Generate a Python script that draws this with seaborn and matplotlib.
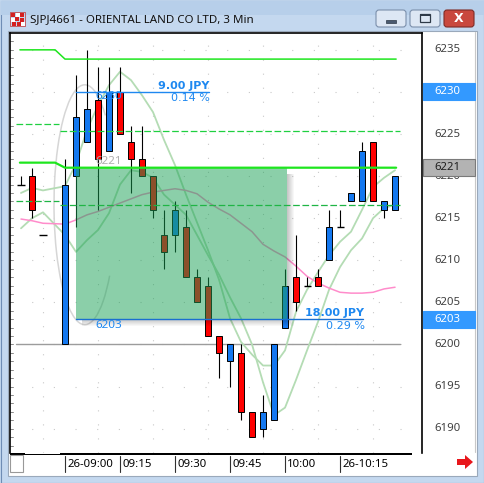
import numpy as np
import pandas as pd
import matplotlib
matplotlib.use("Agg")
import matplotlib.pyplot as plt
import matplotlib.transforms as mtransforms
from matplotlib.patches import Rectangle, FancyBboxPatch, Arc, Polygon
import seaborn as sns

sns.set_theme(style="white")
plt.rcParams["font.family"] = ["Noto Sans", "DejaVu Sans"]
plt.rcParams["lines.scale_dashes"] = False

# ---------------- 3-minute bars, SJPJ4661 ----------------
prev_times = ["25-14:54", "25-14:57", "25-15:00"]
curr_times = list(pd.date_range("2000-01-26 09:00", "2000-01-26 10:30", freq="3min").strftime("26-%H:%M"))
times = prev_times + curr_times

open_ = [6219, 6220, 6213,
         6200, 6220, 6224, 6229, 6223, 6230, 6224, 6222, 6220, 6213, 6213, 6214, 6208, 6207, 6201, 6198,
         6199, 6192, 6190, 6191, 6202, 6208, 6207, 6208, 6210, 6214, 6217, 6217, 6224, 6216, 6216]
high = [6220, 6221, 6213,
        6222, 6232, 6235, 6233, 6233, 6233, 6226, 6226, 6220, 6216, 6217, 6216, 6209, 6208, 6201, 6200,
        6200, 6192, 6194, 6200, 6209, 6213, 6208, 6209, 6216, 6216, 6218, 6224, 6224, 6217, 6220]
low = [6219, 6215, 6213,
       6200, 6214, 6224, 6216, 6223, 6225, 6218, 6220, 6215, 6209, 6211, 6208, 6205, 6201, 6196, 6195,
       6191, 6189, 6189, 6191, 6202, 6204, 6207, 6207, 6210, 6214, 6217, 6217, 6217, 6215, 6216]
close = [6219, 6216, 6213,
         6219, 6227, 6228, 6222, 6230, 6225, 6222, 6220, 6216, 6211, 6216, 6208, 6205, 6201, 6199, 6200,
         6192, 6189, 6192, 6200, 6207, 6205, 6207, 6207, 6214, 6214, 6218, 6223, 6217, 6217, 6220]

# slow moving average (pink)
ma_slow = [6214.9, 6214.7, 6214.4,
           6214.3, 6214.8, 6215.4, 6215.8, 6216.3, 6216.8, 6217.3, 6217.8, 6218.1, 6218.3, 6218.5, 6218.3,
           6217.9, 6216.9, 6216.1, 6215.4, 6214.4, 6213.4, 6211.9, 6211.1, 6210.4, 6209.3, 6208.1, 6207.3,
           6206.7, 6206.2, 6206.1, 6206.1, 6206.2, 6206.6, 6206.8]
# channel bands (pale green)
band_upper = [6218.0, 6218.6, 6218.3,
              6218.8, 6221.5, 6225.5, 6228.4, 6230.8, 6232.4, 6231.4, 6229.6, 6227.6, 6224.3, 6221.3, 6217.8,
              6214.5, 6211.2, 6207.7, 6203.1, 6200.3, 6198.8, 6197.5, 6197.5, 6199.3, 6203.9, 6206.5, 6208.6,
              6210.6, 6212.2, 6213.4, 6216.0, 6218.7, 6219.8, 6220.7]
band_lower = [6213.8, 6215.0, 6215.7,
              6213.0, 6211.0, 6212.4, 6213.6, 6215.6, 6219.0, 6220.7, 6220.5, 6219.8, 6217.8, 6216.6, 6215.4,
              6213.0, 6210.6, 6208.3, 6205.6, 6203.1, 6200.0, 6195.5, 6191.6, 6192.5, 6195.8, 6199.3, 6202.7,
              6206.5, 6209.2, 6211.2, 6212.6, 6215.0, 6216.2, 6216.6]

# session reference levels: (previous session, current session)
level_high = (6235.0, 6233.9)
level_mid = (6226.2, 6225.4)
level_close = (6221.6, 6221.0)
level_low = (6217.0, 6216.6)
round_level = 6200

# price-range drawing
range_top, range_base, range_bottom = 6230, 6221, 6203
last_price = 6221

time_ticks = ["26-09:00", "26-09:15", "26-09:30", "26-09:45", "26-10:00", "26-10:15"]
tick_text = ["26-09:00", "09:15", "09:30", "09:45", "10:00", "26-10:15"]
price_labels = [6235, 6230, 6225, 6220, 6215, 6210, 6205, 6200, 6195, 6190]

# ---------------- layout ----------------
n_prev = len(prev_times)
idx = np.arange(len(times))
slot = idx + (idx >= n_prev)          # one empty slot at the session break
pos = dict(zip(times, slot))

W, H = 485, 483
fig = plt.figure(figsize=(W / 100, H / 100), dpi=100)
fig.patch.set_facecolor("#c2d7ee")

# window chrome, drawn in pixel coordinates
ch = fig.add_axes([0, 0, 1, 1], zorder=0)
ch.set_xlim(0, W)
ch.set_ylim(H, 0)
ch.axis("off")
ch.add_patch(Rectangle((0.5, 0.5), W - 1, H - 1, fc="#c4d8ef", ec="#6f8db5", lw=0.8))
ch.add_patch(Rectangle((1, 1), W - 2, 14, fc="#b7cfea", ec="none"))
ch.add_patch(Rectangle((8, 31), 469, 445, fc="white", ec="#9aa9bb", lw=0.8))
# title icon
for (ix, iy, c) in [(11, 13, "#d42020"), (16, 13, "#ffffff"), (20, 13, "#d42020"),
                    (11, 18, "#ffffff"), (15, 17, "#d42020"), (20, 18, "#d42020"),
                    (12, 22, "#d42020"), (17, 22, "#d42020"), (21, 22, "#ffffff")]:
    ch.add_patch(Rectangle((ix, iy), 3.6, 3.6, fc=c, ec="none"))
ch.add_patch(Rectangle((10, 12), 15, 14, fc="none", ec="#c03030", lw=0.5))
ch.text(30, 20, "SJPJ4661 - ORIENTAL LAND CO LTD, 3 Min", fontsize=8.3,
        color="#111111", va="center", ha="left", family=["Noto Sans", "DejaVu Sans"])
# caption buttons
for bx, fc, ec in [(376, "#dde7f4", "#7b8fab"), (410, "#dde7f4", "#7b8fab"), (444, "#c9483e", "#7f2a25")]:
    ch.add_patch(FancyBboxPatch((bx, 10), 30, 17, boxstyle="round,pad=0,rounding_size=3",
                                fc=fc, ec=ec, lw=0.8))
ch.add_patch(Rectangle((386, 20), 10, 3, fc="#4a5a70", ec="#2e3a48", lw=0.5))
ch.add_patch(Rectangle((420, 14), 10, 8, fc="none", ec="#2e3a48", lw=0.9))
ch.add_patch(Rectangle((420, 14), 10, 2, fc="#2e3a48", ec="none"))
ch.text(459, 18.5, "X", fontsize=9, fontweight="bold", color="white", ha="center", va="center",
        family="DejaVu Sans")
# bottom strip: scroll bar, corner box, arrow
ch.add_patch(Rectangle((10, 452), 402, 3, fc="black", ec="none"))
ch.add_patch(Rectangle((25, 452.6), 35, 1.4, fc="white", ec="none"))
ch.add_patch(Rectangle((10, 455), 13, 17, fc="white", ec="#999999", lw=0.8))
ch.add_patch(Polygon([(457, 459), (465, 459), (465, 455), (473, 462), (465, 469), (465, 465), (457, 465)],
                     closed=True, fc="#e8161b", ec="none"))
ch.add_line(plt.Line2D([475.5, 475.5], [32, 452], color="#c8c8c8", lw=0.8))

# ---------------- price panel ----------------
ax = fig.add_axes([10 / W, 30 / H, 412 / W, 420 / H], zorder=1)
ax.set_facecolor("white")
ax.set_xlim(-1.0, 36.45)
ax.set_ylim(6187.11, 6237.0)
for s in ax.spines.values():
    s.set_color("black")
    s.set_linewidth(1.2)
ax.spines["bottom"].set_visible(False)
ax.set_xticks([])
ax.set_yticks([])

px_x = 1 / 11.0      # one pixel in bar units
px_y = 1 / 8.42      # one pixel in price units

# dotted grid
for p in range(6190, 6240, 5):
    ax.axhline(p, color="#c9c9c9", lw=0.8, dashes=(0.8, 14.8), zorder=0.5)
for g in range(2, 35, 5):
    ax.axvline(g, color="#c9c9c9", lw=0.8, dashes=(0.8, 9.3), zorder=0.5)
# minor price ticks on the left edge
for p in range(6188, 6237):
    ax.plot([-1.0, -1.0 + 3 * px_x], [p, p], color="#8a8a8a", lw=0.7, zorder=0.6, clip_on=False)

# ellipse drawing object (its left side shows beside the candles)
ax.add_patch(Arc((5.8, 6216.6), 5.6, 28.5, theta1=80, theta2=285, ec="#d6d6d6", lw=1.1, zorder=1))

# round number line
ax.plot([-0.45, 34.45], [round_level] * 2, color="#9c9c9c", lw=1.0, zorder=1.5)

# indicators
sns.lineplot(x=slot, y=band_upper, ax=ax, color="#b4dcb4", lw=1.3, sort=False, estimator=None, zorder=2)
sns.lineplot(x=slot, y=band_lower, ax=ax, color="#b4dcb4", lw=1.3, sort=False, estimator=None, zorder=2)
sns.lineplot(x=slot, y=ma_slow, ax=ax, color="#ff8ccb", lw=1.1, sort=False, estimator=None, zorder=2)

# candles
o, h, l, c = map(np.asarray, (open_, high, low, close))
ax.vlines(slot, l, h, color="black", lw=0.8, zorder=2.9)
up = c > o
dn = c < o
eq = c == o
ax.bar(slot[up], (c - o)[up], bottom=o[up], width=0.5, color="#1478f0", edgecolor="black",
       linewidth=0.7, zorder=3)
ax.bar(slot[dn], (o - c)[dn], bottom=c[dn], width=0.5, color="#ff0000", edgecolor="black",
       linewidth=0.7, zorder=3)
ax.hlines(c[eq], slot[eq] - 0.32, slot[eq] + 0.32, color="black", lw=1.0, zorder=3)

# price-range box with drop shadow
x0 = pos["26-09:03"]
x1 = pos["26-10:00"] + 0.2
for k in range(7):
    a = 0.22 * (1 - k / 7)
    ax.add_patch(Rectangle((x1 + k * px_x, range_bottom - (k + 1) * px_y), px_x,
                           (range_base - 6 * px_y) - (range_bottom - (k + 1) * px_y),
                           fc="black", alpha=a, ec="none", zorder=3.7))
    ax.add_patch(Rectangle((x0 + 6 * px_x, range_bottom - (k + 1) * px_y), (x1 + k * px_x) - (x0 + 6 * px_x),
                           px_y, fc="black", alpha=a, ec="none", zorder=3.7))
ax.add_patch(Rectangle((x0, range_bottom), x1 - x0, range_base - range_bottom,
                       fc="#19a155", alpha=0.5, ec="none", zorder=4))

# session reference levels
s_prev0, s_prev1 = -0.45, 3.45
s_cur0, s_cur1 = 3.55, 34.45
ax.plot([-0.1, 3.1, 4.0, 34.1], [level_high[0], level_high[0], level_high[1], level_high[1]],
        color="#1ee61e", lw=1.1, zorder=5)
ax.plot([-0.1, 3.1, 4.0, 34.1], [level_close[0], level_close[0], level_close[1], level_close[1]],
        color="#1ee61e", lw=1.6, zorder=5)
for lev, col in [(level_mid, "#1fd040"), (level_low, "#1fb545")]:
    ax.plot([s_prev0, s_prev1], [lev[0]] * 2, color=col, lw=0.9, dashes=(4.8, 1.9), zorder=5)
    ax.plot([s_cur0, s_cur1], [lev[1]] * 2, color=col, lw=0.9, dashes=(4.8, 1.9), zorder=5)

# price-range measure lines and labels
blue_txt = "#1e88f0"
m_top_end = pos["26-09:39"] + 0.1
m_bot_end = pos["26-10:21"] + 0.1
ax.plot([x0, m_top_end], [range_top] * 2, color=blue_txt, lw=1.0, zorder=5)
ax.plot([x0, m_bot_end], [range_bottom] * 2, color="#1a6fd0", lw=1.0, zorder=5)

lab_x = x0 + 19 * px_x
ax.text(lab_x, range_top - 0.6, f"{range_top}", color=blue_txt, fontsize=8.4, va="center", ha="left", zorder=6)
ax.text(lab_x, range_base + 0.75, f"{range_base}", color="#b0b0b0", fontsize=8.4, va="center", ha="left", zorder=6)
ax.text(lab_x, range_bottom - 0.75, f"{range_bottom}", color=blue_txt, fontsize=8.4, va="center", ha="left", zorder=6)

d_up = range_top - range_base
d_dn = range_base - range_bottom
ax.text(m_top_end, range_top + 0.7, f"{d_up:.2f} JPY", color=blue_txt, fontsize=8.0, fontweight="bold",
        ha="right", va="center", family="DejaVu Sans", zorder=6)
ax.text(m_top_end + 0.1, range_top - 0.7, f"{100 * d_up / range_base:.2f} %", color=blue_txt, fontsize=8.0,
        ha="right", va="center", family="DejaVu Sans", zorder=6)
ax.text(m_bot_end + 0.1, range_bottom + 0.75, f"{d_dn:.2f} JPY", color=blue_txt, fontsize=8.0, fontweight="bold",
        ha="right", va="center", family="DejaVu Sans", zorder=6)
ax.text(m_bot_end + 0.2, range_bottom - 0.75, f"{100 * d_dn / range_base:.2f} %", color=blue_txt, fontsize=8.0,
        ha="right", va="center", family="DejaVu Sans", zorder=6)

# ---------------- price axis (right) ----------------
ty = mtransforms.blended_transform_factory(ax.transAxes, ax.transData)
ax_x = lambda px: (px - 10) / 412.0
for p in price_labels:
    ax.text(ax_x(434), p, f"{p}", transform=ty, fontsize=8.2, color="#404040", va="center", ha="left",
            clip_on=False)
for p, fc, ec, tc in [(range_top, "#3399ff", "#3399ff", "white"), (range_bottom, "#3399ff", "#3399ff", "white"),
                      (last_price, "#b3b3b3", "#7a7a7a", "#202020")]:
    ax.add_patch(Rectangle((ax_x(423), p - 8.5 * px_y), 52 / 412.0, 17 * px_y, transform=ty,
                           fc=fc, ec=ec, lw=0.8, clip_on=False, zorder=6))
    ax.text(ax_x(434), p, f"{p}", transform=ty, fontsize=8.2, color=tc, va="center", ha="left",
            clip_on=False, zorder=7)

# ---------------- time axis (bottom) ----------------
tx = mtransforms.blended_transform_factory(ax.transData, ax.transAxes)
ax_y = lambda py: (453 - py) / 420.0
for t, lab in zip(time_ticks, tick_text):
    xp = pos[t]
    ax.plot([xp, xp], [ax_y(456), ax_y(472)], transform=tx, color="#303030", lw=0.8, clip_on=False)
    ax.text(xp + 2 * px_x, ax_y(464.5), lab, transform=tx, fontsize=8.2, color="black",
            va="center", ha="left", clip_on=False)

fig.savefig("out.png", dpi=100, facecolor=fig.get_facecolor())
